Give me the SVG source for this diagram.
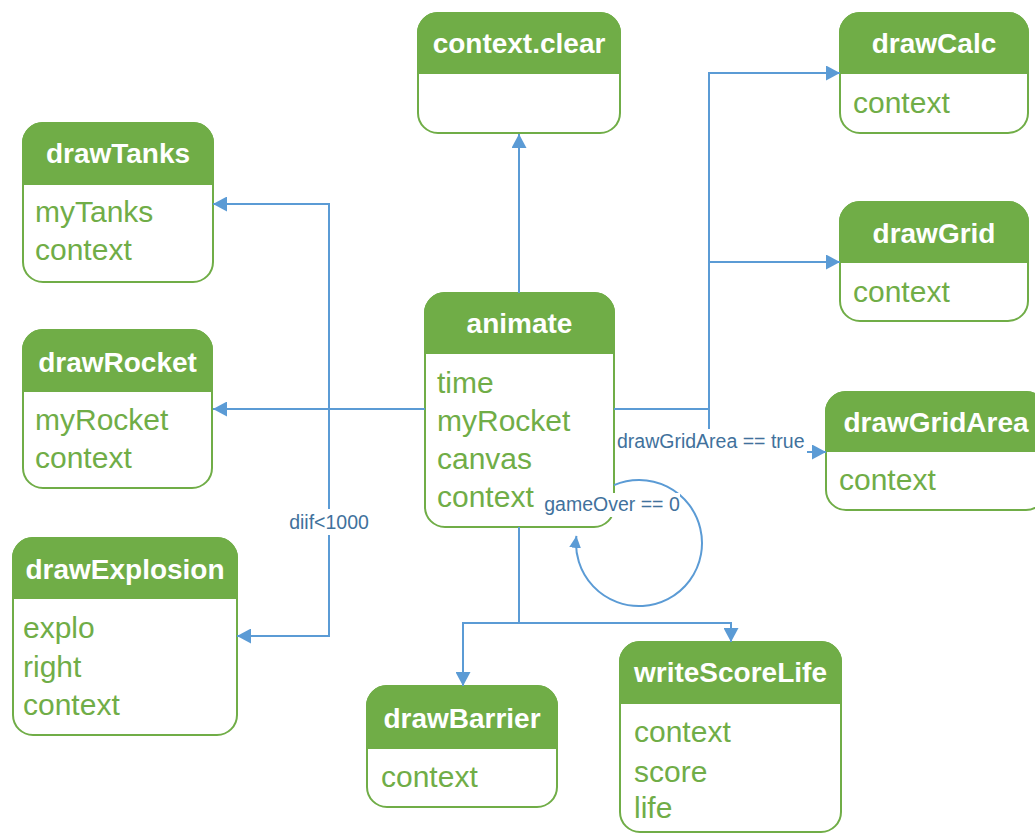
<svg xmlns="http://www.w3.org/2000/svg" width="1035" height="834" viewBox="0 0 1035 834">
<style>
.box{fill:#fff;stroke:#70AD47;stroke-width:2}
.hdr{fill:#70AD47;stroke:#70AD47;stroke-width:2}
.title{font-family:"Liberation Sans",Arial,sans-serif;font-weight:bold;font-size:28px;fill:#fff;text-anchor:middle}
.attr{font-family:"Liberation Sans",Arial,sans-serif;font-size:30px;fill:#70AD47}
.edge{fill:none;stroke:#5B9BD5;stroke-width:2}
.lbl{font-family:"Liberation Sans",Arial,sans-serif;font-size:19.5px;fill:#41719C}
.lblbg{fill:#fff}
</style>
<defs>
<marker id="arr" markerUnits="userSpaceOnUse" markerWidth="15" markerHeight="15" refX="14" refY="7.5" orient="auto">
<path d="M0,0 L14,7.5 L0,15 Z" fill="#5B9BD5"/>
</marker>
<marker id="arrs" markerUnits="userSpaceOnUse" markerWidth="13" markerHeight="13" refX="12" refY="6" orient="auto">
<path d="M0,0 L12,6 L0,12 Z" fill="#5B9BD5"/>
</marker>
</defs>

<g id="node-context-clear" transform="translate(418,13)">
<rect class="box" x="0" y="0" width="202" height="120" rx="20"/>
<path class="hdr" d="M0,60 V20 A20,20 0 0 1 20,0 H182 A20,20 0 0 1 202,20 V60 Z"/>
<text class="title" x="101" y="40">context.clear</text>
</g>

<g id="node-drawCalc" transform="translate(840,13)">
<rect class="box" x="0" y="0" width="188" height="120" rx="20"/>
<path class="hdr" d="M0,60 V20 A20,20 0 0 1 20,0 H168 A20,20 0 0 1 188,20 V60 Z"/>
<text class="title" x="94" y="40">drawCalc</text>
<text class="attr" x="13" y="100">context</text>
</g>

<g id="node-drawGrid" transform="translate(840,202)">
<rect class="box" x="0" y="0" width="188" height="119" rx="20"/>
<path class="hdr" d="M0,60 V20 A20,20 0 0 1 20,0 H168 A20,20 0 0 1 188,20 V60 Z"/>
<text class="title" x="94" y="41">drawGrid</text>
<text class="attr" x="13" y="100">context</text>
</g>

<g id="node-drawGridArea" transform="translate(826,392)">
<rect class="box" x="0" y="0" width="220" height="118" rx="20"/>
<path class="hdr" d="M0,59 V20 A20,20 0 0 1 20,0 H200 A20,20 0 0 1 220,20 V59 Z"/>
<text class="title" x="110" y="40">drawGridArea</text>
<text class="attr" x="13" y="98">context</text>
</g>

<g id="node-drawTanks" transform="translate(23,123)">
<rect class="box" x="0" y="0" width="190" height="159" rx="20"/>
<path class="hdr" d="M0,61 V20 A20,20 0 0 1 20,0 H170 A20,20 0 0 1 190,20 V61 Z"/>
<text class="title" x="95" y="40">drawTanks</text>
<text class="attr" x="12" y="99">myTanks</text>
<text class="attr" x="12" y="137">context</text>
</g>

<g id="node-drawRocket" transform="translate(23,330)">
<rect class="box" x="0" y="0" width="189" height="158" rx="20"/>
<path class="hdr" d="M0,61 V20 A20,20 0 0 1 20,0 H169 A20,20 0 0 1 189,20 V61 Z"/>
<text class="title" x="94.5" y="42">drawRocket</text>
<text class="attr" x="12" y="100">myRocket</text>
<text class="attr" x="12" y="138">context</text>
</g>

<g id="node-drawExplosion" transform="translate(13,538)">
<rect class="box" x="0" y="0" width="224" height="197" rx="20"/>
<path class="hdr" d="M0,60 V20 A20,20 0 0 1 20,0 H204 A20,20 0 0 1 224,20 V60 Z"/>
<text class="title" x="112" y="41">drawExplosion</text>
<text class="attr" x="10" y="100">explo</text>
<text class="attr" x="10" y="139">right</text>
<text class="attr" x="10" y="177">context</text>
</g>

<g id="node-animate" transform="translate(425,293)">
<rect class="box" x="0" y="0" width="189" height="234" rx="20"/>
<path class="hdr" d="M0,60 V20 A20,20 0 0 1 20,0 H169 A20,20 0 0 1 189,20 V60 Z"/>
<text class="title" x="94.5" y="40">animate</text>
<text class="attr" x="12" y="100">time</text>
<text class="attr" x="12" y="138">myRocket</text>
<text class="attr" x="12" y="176">canvas</text>
<text class="attr" x="12" y="214">context</text>
</g>

<g id="node-drawBarrier" transform="translate(367,686)">
<rect class="box" x="0" y="0" width="190" height="121" rx="20"/>
<path class="hdr" d="M0,62 V20 A20,20 0 0 1 20,0 H170 A20,20 0 0 1 190,20 V62 Z"/>
<text class="title" x="95" y="42">drawBarrier</text>
<text class="attr" x="14" y="101">context</text>
</g>

<g id="node-writeScoreLife" transform="translate(620,642)">
<rect class="box" x="0" y="0" width="221" height="190" rx="20"/>
<path class="hdr" d="M0,61 V20 A20,20 0 0 1 20,0 H201 A20,20 0 0 1 221,20 V61 Z"/>
<text class="title" x="110.5" y="40">writeScoreLife</text>
<text class="attr" x="14" y="100">context</text>
<text class="attr" x="14" y="140">score</text>
<text class="attr" x="14" y="176">life</text>
</g>

<g id="connectors">
<path class="edge" d="M519,293 V134" marker-end="url(#arr)"/>
<path class="edge" d="M614,409 H709 V73 H840" marker-end="url(#arr)"/>
<path class="edge" d="M709,262 H840" marker-end="url(#arr)"/>
<path class="edge" d="M614,409 H709 V452 H826" marker-end="url(#arr)"/>
<path class="edge" d="M425,409 H213" marker-end="url(#arr)"/>
<path class="edge" d="M329,409 V204 H213" marker-end="url(#arr)"/>
<path class="edge" d="M329,409 V636 H237" marker-end="url(#arr)"/>
<path class="edge" d="M519,527 V623 H463 V686" marker-end="url(#arr)"/>
<path class="edge" d="M519,623 H731 V642" marker-end="url(#arr)"/>
<path class="edge" d="M614,485.2 A63,63 0 1 1 576.4,535.9" marker-end="url(#arrs)"/>
<g id="edge-labels">
<rect class="lblbg" x="616" y="429" width="191" height="26"/>
<text class="lbl" x="617" y="448">drawGridArea == true</text>
<rect class="lblbg" x="545" y="493" width="135" height="24"/>
<text class="lbl" x="612" y="511" text-anchor="middle">gameOver == 0</text>
<rect class="lblbg" x="288" y="509" width="82" height="26"/>
<text class="lbl" x="329" y="529" text-anchor="middle">diif&lt;1000</text>
</g>
</g>
</svg>
